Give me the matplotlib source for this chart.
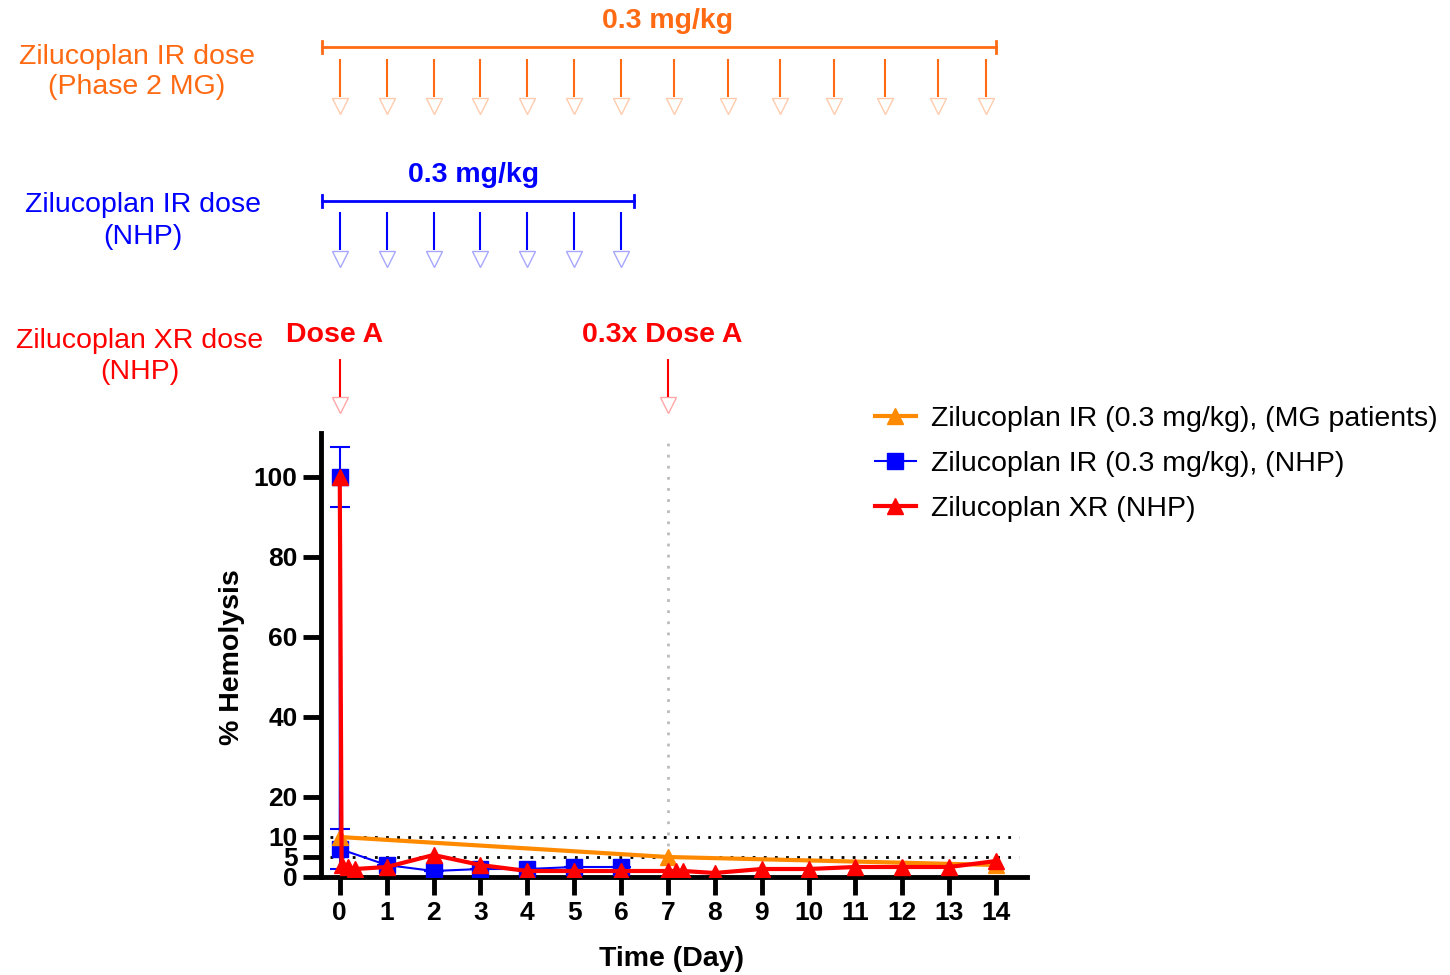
import matplotlib
matplotlib.use("Agg")
import matplotlib.pyplot as plt
from matplotlib.lines import Line2D

plt.rcParams['font.family'] = ['Liberation Sans', 'DejaVu Sans']

# Hemolysis data (% of baseline)
mg_days = [0, 7, 14]
mg_hemolysis = [10, 5, 3]

nhp_ir_days = [0, 0, 1, 2, 3, 4, 5, 6]
nhp_ir_hemolysis = [100, 7, 3, 1.5, 2, 2, 2.5, 2.5]
nhp_ir_err = [7.5, 5, 0, 0, 0, 0, 0, 0]

nhp_xr_days = [0, 0.04, 0.17, 0.33, 1, 2, 3, 4, 5, 6, 7, 7.17, 7.33, 8, 9, 10, 11, 12, 13, 14]
nhp_xr_hemolysis = [100, 3, 2.5, 2, 2.5, 5.5, 3, 1.5, 1.5, 1.5, 1.5, 1.5, 1.5, 1, 2, 2, 2.5, 2.5, 2.5, 4]

# dosing schedules
mg_dose_days = [0, 1, 2, 3, 4, 5, 6, 7.13, 8.28, 9.39, 10.54, 11.63, 12.76, 13.79]
nhp_ir_dose_days = [0, 1, 2, 3, 4, 5, 6]
nhp_xr_dose_days = [0, 7]
nhp_xr_dose_labels = ["Dose A", "0.3x Dose A"]

x_ticks = list(range(0, 15))
y_ticks = [0, 5, 10, 20, 40, 60, 80, 100]

ORANGE_TXT = '#FF6A13'
ORANGE = '#FF8A00'
BLUE = '#0000FF'
RED = '#FF0000'
FS = 20.5

W, H = 1450, 975
fig = plt.figure(figsize=(W / 100, H / 100), dpi=100)

left, right, bottom, top_px = 321, 1027, 877, 433
ax = fig.add_axes([left / W, 1 - bottom / H, (right - left) / W, (bottom - top_px) / H])
xlim = (-0.4, 14.66)
ax.set_xlim(*xlim)
ax.set_ylim(0, 111)

# reference lines
ax.hlines([5, 10], -0.2, 14.5, colors='black', linestyles=(0, (1, 3)), linewidth=2, zorder=1)
ax.vlines(7, 5, 110, colors='#BBBBBB', linestyles=(0, (1, 3)), linewidth=2, zorder=1)

ax.errorbar(nhp_ir_days, nhp_ir_hemolysis, yerr=nhp_ir_err, color=BLUE, lw=1.5,
            marker='s', ms=11, capsize=7, capthick=1.5, elinewidth=1.5, zorder=3)
ax.plot(mg_days, mg_hemolysis, color=ORANGE, lw=3, marker='^', ms=12, zorder=4)
ax.plot(nhp_xr_days, nhp_xr_hemolysis, color=RED, lw=3, marker='^', ms=12, zorder=5)

for side in ['top', 'right']:
    ax.spines[side].set_visible(False)
for side in ['left', 'bottom']:
    ax.spines[side].set_linewidth(3.5)

ax.set_xticks(x_ticks)
ax.set_yticks(y_ticks)
ax.tick_params(axis='both', width=3.5, length=13, labelsize=19, pad=4)
for lab in ax.get_xticklabels() + ax.get_yticklabels():
    lab.set_fontweight('bold')

ax.set_xlabel("Time (Day)", fontsize=FS, fontweight='bold', va='center')
ax.set_ylabel("% Hemolysis", fontsize=FS, fontweight='bold', va='center')
ax.xaxis.set_label_coords(0.497, -0.185)
ax.yaxis.set_label_coords(-0.126, 0.495)

handles = [
    Line2D([], [], color=ORANGE, lw=3, marker='^', ms=12),
    Line2D([], [], color=BLUE, lw=1.5, marker='s', ms=11),
    Line2D([], [], color=RED, lw=3, marker='^', ms=12),
]
labels = ["Zilucoplan IR (0.3 mg/kg), (MG patients)",
          "Zilucoplan IR (0.3 mg/kg), (NHP)",
          "Zilucoplan XR (NHP)"]
fig.legend(handles, labels, loc='upper left', bbox_to_anchor=(866 / W, 1 - 397 / H),
           frameon=False, fontsize=FS, handlelength=1.45, handletextpad=0.55,
           labelspacing=0.68, borderaxespad=0, borderpad=0.3)

# overlay in pixel rows sharing the day scale, for dosing schemes
ov = fig.add_axes([left / W, 0, (right - left) / W, 1])
ov.set_xlim(*xlim)
ov.set_ylim(H, 0)
ov.axis('off')
ov.patch.set_alpha(0)


def dose_arrows(days, color, y0, y1, head_y):
    for d in days:
        ov.plot([d, d], [y0, y1], color=color, lw=1.5, solid_capstyle='butt')
        ov.plot(d, head_y, marker='v', ms=12, mfc='white', mec=color, mew=1,
                alpha=0.35, linestyle='none')


def bracket(x0, x1, y, color):
    ov.plot([x0, x1], [y, y], color=color, lw=2)
    for x in (x0, x1):
        ov.plot([x, x], [y - 6, y + 6], color=color, lw=2)


# IR dosing in MG patients
bracket(-0.38, 14.0, 47, ORANGE_TXT)
ov.text(7, 21, "0.3 mg/kg", color=ORANGE_TXT, fontsize=FS, fontweight='bold',
        ha='center', va='center')
dose_arrows(mg_dose_days, ORANGE_TXT, 59, 97, 106)

# IR dosing in NHP
bracket(-0.38, 6.27, 201, BLUE)
ov.text(2.86, 175, "0.3 mg/kg", color=BLUE, fontsize=FS, fontweight='bold',
        ha='center', va='center')
dose_arrows(nhp_ir_dose_days, BLUE, 212, 250, 259)

# XR dosing in NHP
for d, lab in zip(nhp_xr_dose_days, nhp_xr_dose_labels):
    ov.text(d - 0.12, 335, lab, color=RED, fontsize=FS, fontweight='bold',
            ha='center', va='center')
dose_arrows(nhp_xr_dose_days, RED, 359, 397, 405)

# row titles
fig.text(137 / W, 1 - 72 / H, "Zilucoplan IR dose\n(Phase 2 MG)", color=ORANGE_TXT,
         fontsize=FS, ha='center', va='center', linespacing=1.25)
fig.text(143 / W, 1 - 221 / H, "Zilucoplan IR dose\n(NHP)", color=BLUE,
         fontsize=FS, ha='center', va='center', linespacing=1.25)
fig.text(140 / W, 1 - 356 / H, "Zilucoplan XR dose\n(NHP)", color=RED,
         fontsize=FS, ha='center', va='center', linespacing=1.25)

fig.savefig("out.png", dpi=100)
